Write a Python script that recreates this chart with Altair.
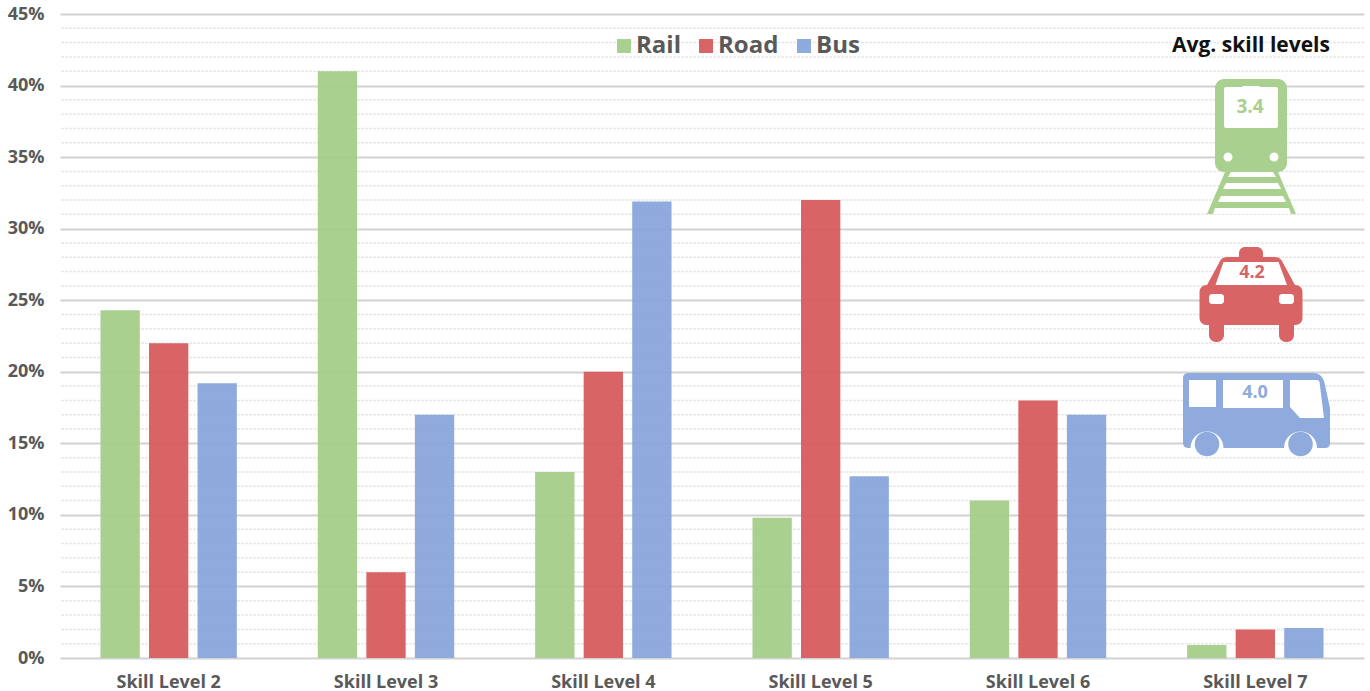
import altair as alt
import pandas as pd

# Share of workers per skill level, in percent
levels = ["Skill Level 2", "Skill Level 3", "Skill Level 4", "Skill Level 5", "Skill Level 6", "Skill Level 7"]
modes = ["Rail", "Road", "Bus"]
rail = [24.3, 41.0, 13.0, 9.8, 11.0, 0.9]
road = [22.0, 6.0, 20.0, 32.0, 18.0, 2.0]
bus = [19.2, 17.0, 31.9, 12.7, 17.0, 2.1]
major_ticks = [0, 5, 10, 15, 20, 25, 30, 35, 40, 45]
minor_ticks = [v for v in range(0, 46) if v % 5]
avg_skill = ["3.4", "4.2", "4.0"]

GREEN, RED, BLUE = "#A9D08E", "#D96466", "#8FAADC"
# Slightly deeper bar fills: the grid shows faintly through the translucent bars
BAR_GREEN, BAR_RED, BAR_BLUE = "#A2CC84", "#D65759", "#85A3D9"
WHITE = "#FFFFFF"
GREY = "#595959"
FONT = "Open Sans"

plot_w, plot_h = 1304, 644
left, top = 60, 14

rows = [
    {"level": lv, "mode": m, "share": v}
    for m, series in zip(modes, [rail, road, bus])
    for lv, v in zip(levels, series)
]
df = pd.DataFrame(rows)

y_scale = alt.Scale(domain=[0, 45], nice=False)
y_axis = alt.Axis(
    title=None, values=major_ticks, labelExpr="datum.value + '%'",
    domain=False, ticks=False, labelPadding=16,
    labelFont=FONT, labelFontSize=18, labelFontWeight="bold", labelColor=GREY,
    grid=True, gridColor="#D2D2D2", gridWidth=2,
)

minor_grid = (
    alt.Chart(pd.DataFrame({"tick": minor_ticks}))
    .mark_rule(color="#E8E8E8", strokeWidth=1.5, strokeDash=[3, 1])
    .encode(y=alt.Y("tick:Q", scale=y_scale, axis=y_axis))
)

bars = (
    alt.Chart(df)
    .mark_bar(opacity=0.92)
    .encode(
        x=alt.X(
            "level:N",
            sort=levels,
            scale=alt.Scale(paddingInner=0.33, paddingOuter=0.165),
            axis=alt.Axis(
                title=None, labelAngle=0, domain=False, ticks=False, labelPadding=15,
                labelFont=FONT, labelFontSize=18, labelFontWeight="bold", labelColor=GREY,
            ),
        ),
        xOffset=alt.XOffset(
            "mode:N", sort=modes, scale=alt.Scale(paddingInner=0.19, paddingOuter=0.095)
        ),
        y=alt.Y("share:Q", scale=y_scale, axis=y_axis),
        color=alt.Color(
            "mode:N",
            sort=modes,
            scale=alt.Scale(domain=modes, range=[BAR_GREEN, BAR_RED, BAR_BLUE]),
            legend=alt.Legend(
                title=None, orient="none", legendX=552, legendY=20, direction="horizontal",
                columns=3, columnPadding=13, symbolType="square", symbolSize=196,
                symbolStrokeWidth=0, symbolOpacity=0.92, labelFont=FONT, labelFontSize=24,
                labelFontWeight="bold", labelColor=GREY, labelOffset=0,
            ),
        ),
    )
)


def rect(x0, y0, x1, y1):
    return f"M{x0},{y0}L{x1},{y0}L{x1},{y1}L{x0},{y1}Z"


def round_rect(x0, y0, x1, y1, r):
    return (
        f"M{x0 + r},{y0}L{x1 - r},{y0}A{r},{r} 0 0 1 {x1},{y0 + r}L{x1},{y1 - r}"
        f"A{r},{r} 0 0 1 {x1 - r},{y1}L{x0 + r},{y1}A{r},{r} 0 0 1 {x0},{y1 - r}"
        f"L{x0},{y0 + r}A{r},{r} 0 0 1 {x0 + r},{y0}Z"
    )


def circle(cx, cy, r):
    return f"M{cx - r},{cy}A{r},{r} 0 1 1 {cx + r},{cy}A{r},{r} 0 1 1 {cx - r},{cy}Z"


# Icon outlines, drawn in pixels around each icon's anchor point
TRAIN_AT = (1251, 146)
train_parts = [
    ("M-26,26L27,26L45,68L-44,68Z", GREEN),
    ("M-20,26L22,26L25,31L-23,31Z", WHITE),
    ("M-25,37L27,37L30,43L-28,43Z", WHITE),
    ("M-30,50L32,50L35,56L-33,56Z", WHITE),
    ("M-36,62L38,62L40,68L-38,68Z", WHITE),
    (round_rect(-36, -67, 36, 26, 9), GREEN),
    ("M-25,-59L-9,-59L-8,-60L8,-60L9,-59L25,-59Q27,-59 27,-57L27,-20Q27,-18 25,-18L-25,-18Q-27,-18 -27,-20L-27,-57Q-27,-59 -25,-59Z", WHITE),
    (circle(-23, 11, 4.5), WHITE),
    (circle(23, 11, 4.5), WHITE),
]

TAXI_AT = (1251, 295)
taxi_parts = [
    (round_rect(-12, -48, 12, -30, 6), RED),
    ("M-24,-38L24,-38Q30,-38 32,-32L44,-10L-44,-10L-32,-32Q-30,-38 -24,-38Z", RED),
    (round_rect(-51.5, -10, 51.5, 30, 7), RED),
    (round_rect(-42, 20, -27, 47, 7), RED),
    (round_rect(28, 20, 43, 47, 7), RED),
    ("M-27.5,-33L27.5,-33L36,-10L-35.5,-10Z", WHITE),
    (round_rect(-42, -1, -27, 9, 3), WHITE),
    (round_rect(28, -1, 43, 9, 3), WHITE),
]

BUS_AT = (1251, 410)
bus_parts = [
    ("M-62,-37L62,-37Q72,-37 74,-25L79,-2L79,33Q79,38 74,38L-62,38Q-68,38 -68,33L-68,-32Q-68,-37 -62,-37Z", BLUE),
    (rect(-62, -30, -35, -3), WHITE),
    (rect(-28, -30, 32, -2), WHITE),
    ("M39,-30L66,-30Q68,-30 68.5,-28L73,8L49,8L39,-3Z", WHITE),
    ("M-60.5,38A16.5,16.5 0 0 1 -27.5,38Z", WHITE),
    ("M33,38A16.5,16.5 0 0 1 66,38Z", WHITE),
    (circle(-44, 34, 12.3), BLUE),
    (circle(49.5, 34, 12.3), BLUE),
]

anchor = pd.DataFrame({"row": [0]})


def icon_layers(at, parts):
    # A symbol of size 4 maps one path unit onto one pixel
    return [
        alt.Chart(anchor)
        .mark_point(shape=path, size=4, filled=True, fill=color, opacity=1, strokeWidth=0)
        .encode(x=alt.value(at[0] - left), y=alt.value(at[1] - top))
        for path, color in parts
    ]


def caption(text, cx, cy, color, size):
    return (
        alt.Chart(pd.DataFrame({"label": [text]}))
        .mark_text(font=FONT, fontSize=size, fontWeight="bold", color=color,
                   align="center", baseline="middle")
        .encode(x=alt.value(cx - left), y=alt.value(cy - top), text="label:N")
    )


layers = [minor_grid, bars]
layers += icon_layers(TRAIN_AT, train_parts)
layers += icon_layers(TAXI_AT, taxi_parts)
layers += icon_layers(BUS_AT, bus_parts)
layers += [
    caption("Avg. skill levels", 1251, 46, "#111111", 21),
    caption(avg_skill[0], 1250, 107, GREEN, 19),
    caption(avg_skill[1], 1252, 273, RED, 18),
    caption(avg_skill[2], 1255, 393, BLUE, 18),
]

chart = (
    alt.layer(*layers)
    .properties(
        width=plot_w,
        height=plot_h,
        padding={"left": left, "top": top, "right": 6, "bottom": 33},
        autosize=alt.AutoSizeParams(type="none"),
        background="#FFFFFF",
    )
    .configure_view(stroke=None)
)

chart.save("out.html", embed_options={"renderer": "svg", "actions": False})
